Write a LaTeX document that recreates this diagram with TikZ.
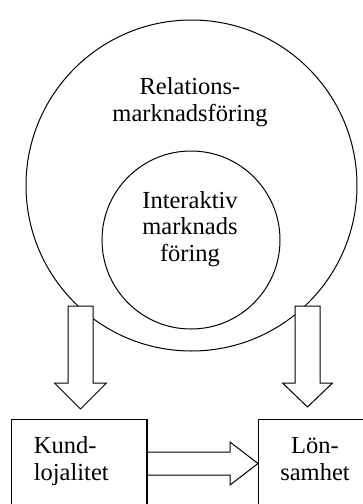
\documentclass[tikz,border=0pt]{standalone}
\usepackage{fontspec}
\setmainfont{Liberation Serif}
\usetikzlibrary{calc}

\begin{document}
\begin{tikzpicture}[x=1pt,y=-1pt,line width=1pt,
      every node/.style={font=\fontsize{24.5}{26.5}\selectfont},
      ring/.style={circle,draw,inner sep=0pt},
      box/.style={rectangle,draw,anchor=north west,inner sep=0pt},
      pil/.style={draw,fill=white,line join=miter}]
    \clip (0,0) rectangle (363,504);
    \node[ring,minimum size=331pt] (yttre) at (191.5,185.5) {};
    \node[ring,minimum size=178pt] (inre) at (191,240) {};
    \node[align=center,anchor=base] (rel) at (190,121) {Relations-\\marknadsföring};
    \node[align=center,anchor=base] (inter) at (190,261) {Interaktiv\\marknads\\föring};
    \node[box,minimum width=135pt,minimum height=120pt] (kund) at (11,419) {};
    \node[box,minimum width=130pt,minimum height=120pt] (lon) at (258,419) {};
    \node[align=left,anchor=base west] (kundtext) at (30,480) {Kund-\\lojalitet};
    \node[align=center,anchor=base] (lontext) at (315,480) {Lön-\\samhet};
    % block arrows
    \coordinate (v1) at (80.5,306);
    \coordinate (v2) at (307.5,306);
    \coordinate (kt) at ($(kund.north -| v1)+(0,-10)$);
    \coordinate (lt) at ($(lon.north -| v2)+(0,-12)$);
    \coordinate (h1) at ($(kund.north east)+(0,44.5)$);
    \coordinate (h2) at (lon.west |- h1);
    \draw[pil] ($(v1)+(-12.5,0)$) -- ($(v1)+(12.5,0)$) -- ($(kt)+(12.5,-26)$) -- ($(kt)+(26,-26)$)
      -- (kt) -- ($(kt)+(-26,-26)$) -- ($(kt)+(-12.5,-26)$) -- cycle;
    \draw[pil] ($(v2)+(-12.5,0)$) -- ($(v2)+(12.5,0)$) -- ($(lt)+(12.5,-24)$) -- ($(lt)+(25,-24)$)
      -- (lt) -- ($(lt)+(-25,-24)$) -- ($(lt)+(-12.5,-24)$) -- cycle;
    \draw[pil] ($(h1)+(0,-11.5)$) -- ($(h2)+(-28,-11.5)$) -- ($(h2)+(-28,-21.5)$) -- (h2)
      -- ($(h2)+(-28,21.5)$) -- ($(h2)+(-28,11.5)$) -- ($(h1)+(0,11.5)$);
    \draw (kund.north west) -- (kund.north east) -- (kund.south east);
    \draw (kund.north west) -- (kund.south west);
    \draw (lon.south west) -- (lon.north west) -- (lon.north east);
  \end{tikzpicture}
\end{document}
